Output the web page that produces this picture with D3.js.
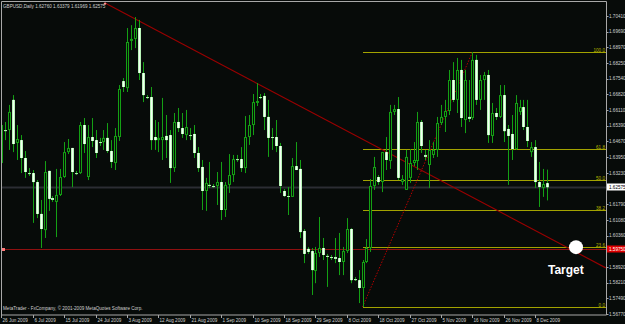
<!DOCTYPE html>
<html>
<head>
<meta charset="utf-8">
<script src="https://cdn.jsdelivr.net/npm/d3@7/dist/d3.min.js"></script>
<style>
body { margin: 0; background: #000; }
svg { display: block; }
.tiny { font-family: "Liberation Sans", Arial, sans-serif; font-size: 4.6px; fill: #d0d0d0; }
</style>
</head>
<body>
<svg id="chart" width="625" height="324"></svg>
<script>
// GBPUSD daily, 26 Jun 2009 .. 9 Dec 2009 (prices)
var opens = [
  1.6368, 1.6519, 1.6519, 1.6657, 1.6460, 1.6473, 1.6391, 1.6322, 1.6322, 1.6281,
  1.6135, 1.6061, 1.6332, 1.6208, 1.6190, 1.6222, 1.6304, 1.6418, 1.6437, 1.6322,
  1.6322, 1.6542, 1.6304, 1.6487, 1.6473, 1.6464, 1.6464, 1.6483, 1.6423, 1.6368,
  1.6487, 1.6743, 1.6711, 1.6927, 1.6936, 1.6986, 1.6780, 1.6670, 1.6670, 1.6487,
  1.6473, 1.6473, 1.6492, 1.6496, 1.6345, 1.6556, 1.6528, 1.6496, 1.6496, 1.6501,
  1.6414, 1.6350, 1.6240, 1.6268, 1.6263, 1.6263, 1.6281, 1.6153, 1.6268, 1.6313,
  1.6386, 1.6386, 1.6345, 1.6487, 1.6542, 1.6643, 1.6670, 1.6675, 1.6579, 1.6487,
  1.6487, 1.6446, 1.6240, 1.6217, 1.6213, 1.6354, 1.6341, 1.6057, 1.5975, 1.5965,
  1.5874, 1.5956, 1.5979, 1.5943, 1.5938, 1.5938, 1.5933, 1.5915, 1.5965, 1.6066,
  1.5837, 1.5832, 1.5796, 1.5915, 1.5979, 1.6263, 1.6304, 1.6281, 1.6418, 1.6377,
  1.6602, 1.6615, 1.6281, 1.6245, 1.6300, 1.6368, 1.6377, 1.6556, 1.6405, 1.6359,
  1.6405, 1.6428, 1.6551, 1.6579, 1.6606, 1.6748, 1.6657, 1.6794, 1.6565, 1.6579,
  1.6574, 1.6840, 1.6657, 1.6748, 1.6771, 1.6492, 1.6597, 1.6579, 1.6679, 1.6524,
  1.6501, 1.6432, 1.6602, 1.6624, 1.6533, 1.6418, 1.6441, 1.6281, 1.6254, 1.62760
];
var highs = [
  1.6574, 1.6556, 1.6634, 1.6679, 1.6542, 1.6496, 1.6423, 1.6345, 1.6336, 1.6290,
  1.6199, 1.6377, 1.6332, 1.6217, 1.6341, 1.6341, 1.6464, 1.6478, 1.6437, 1.6332,
  1.6556, 1.6574, 1.6542, 1.6574, 1.6519, 1.6483, 1.6519, 1.6551, 1.6473, 1.6528,
  1.6725, 1.6757, 1.6986, 1.6999, 1.7036, 1.7023, 1.6830, 1.6679, 1.6716, 1.6565,
  1.6556, 1.6666, 1.6588, 1.6519, 1.6597, 1.6620, 1.6597, 1.6611, 1.6528, 1.6542,
  1.6441, 1.6382, 1.6300, 1.6373, 1.6272, 1.6327, 1.6373, 1.6281, 1.6409, 1.6405,
  1.6405, 1.6441, 1.6583, 1.6588, 1.6684, 1.6734, 1.6684, 1.6688, 1.6657, 1.6528,
  1.6565, 1.6460, 1.6249, 1.6258, 1.6391, 1.6464, 1.6382, 1.6066, 1.5984, 1.5979,
  1.5984, 1.6121, 1.6025, 1.5952, 1.5947, 1.6025, 1.6048, 1.5984, 1.6116, 1.6070,
  1.5846, 1.5878, 1.5924, 1.6020, 1.6295, 1.6396, 1.6313, 1.6418, 1.6487, 1.6634,
  1.6634, 1.6670, 1.6313, 1.6428, 1.6432, 1.6464, 1.6602, 1.6565, 1.6428, 1.6473,
  1.6464, 1.6579, 1.6634, 1.6657, 1.6794, 1.6830, 1.6849, 1.6840, 1.6794, 1.6748,
  1.6876, 1.6863, 1.6771, 1.6785, 1.6794, 1.6643, 1.6620, 1.6725, 1.6725, 1.6542,
  1.6588, 1.6679, 1.6657, 1.6657, 1.6657, 1.6464, 1.6473, 1.6373, 1.6341, 1.63379
];
var lows = [
  1.6359, 1.6473, 1.6428, 1.6418, 1.6382, 1.6322, 1.6300, 1.6309, 1.6094, 1.6116,
  1.5979, 1.6025, 1.6149, 1.6190, 1.6029, 1.6217, 1.6300, 1.6409, 1.6258, 1.6313,
  1.6318, 1.6414, 1.6290, 1.6441, 1.6391, 1.6446, 1.6428, 1.6414, 1.6345, 1.6336,
  1.6469, 1.6693, 1.6693, 1.6885, 1.6894, 1.6748, 1.6647, 1.6661, 1.6428, 1.6428,
  1.6418, 1.6382, 1.6391, 1.6277, 1.6327, 1.6510, 1.6483, 1.6473, 1.6473, 1.6391,
  1.6327, 1.6153, 1.6149, 1.6254, 1.6254, 1.6176, 1.6107, 1.6121, 1.6231, 1.6281,
  1.6373, 1.6327, 1.6322, 1.6451, 1.6496, 1.6629, 1.6661, 1.6519, 1.6396, 1.6428,
  1.6418, 1.6231, 1.6213, 1.6130, 1.6213, 1.6336, 1.6025, 1.5910, 1.5952, 1.5764,
  1.5818, 1.5938, 1.5924, 1.5801, 1.5924, 1.5910, 1.5855, 1.5855, 1.5956, 1.5818,
  1.5828, 1.5727, 1.5709, 1.5910, 1.5961, 1.6245, 1.6268, 1.6235, 1.6336, 1.6341,
  1.6588, 1.6290, 1.6268, 1.6245, 1.6277, 1.6354, 1.6336, 1.6414, 1.6382, 1.6254,
  1.6391, 1.6396, 1.6542, 1.6510, 1.6588, 1.6647, 1.6597, 1.6533, 1.6505, 1.6556,
  1.6565, 1.6634, 1.6611, 1.6657, 1.6460, 1.6460, 1.6565, 1.6574, 1.6464, 1.6268,
  1.6382, 1.6428, 1.6588, 1.6519, 1.6441, 1.6396, 1.6254, 1.6167, 1.6213, 1.61969
];
var closes = [
  1.6542, 1.6514, 1.6602, 1.6455, 1.6478, 1.6391, 1.6327, 1.6318, 1.6281, 1.6135,
  1.6066, 1.6327, 1.6204, 1.6199, 1.6222, 1.6304, 1.6418, 1.6437, 1.6327, 1.6318,
  1.6542, 1.6455, 1.6487, 1.6469, 1.6414, 1.6460, 1.6483, 1.6423, 1.6373, 1.6492,
  1.6707, 1.6716, 1.6922, 1.6936, 1.6986, 1.6780, 1.6679, 1.6666, 1.6473, 1.6473,
  1.6483, 1.6487, 1.6473, 1.6345, 1.6556, 1.6528, 1.6501, 1.6533, 1.6492, 1.6414,
  1.6345, 1.6240, 1.6277, 1.6263, 1.6258, 1.6281, 1.6153, 1.6268, 1.6313, 1.6386,
  1.6382, 1.6345, 1.6487, 1.6542, 1.6647, 1.6652, 1.6666, 1.6579, 1.6483, 1.6483,
  1.6446, 1.6263, 1.6217, 1.6213, 1.6354, 1.6336, 1.6052, 1.5952, 1.5961, 1.5878,
  1.5956, 1.5979, 1.5947, 1.5938, 1.5933, 1.5929, 1.5915, 1.5965, 1.6066, 1.5832,
  1.5832, 1.5796, 1.5915, 1.5979, 1.6263, 1.6350, 1.6281, 1.6418, 1.6382, 1.6602,
  1.6615, 1.6300, 1.6295, 1.6396, 1.6368, 1.6382, 1.6556, 1.6446, 1.6396, 1.6428,
  1.6428, 1.6551, 1.6579, 1.6606, 1.6748, 1.6657, 1.6794, 1.6574, 1.6748, 1.6570,
  1.6840, 1.6657, 1.6748, 1.6771, 1.6496, 1.6597, 1.6579, 1.6679, 1.6514, 1.6492,
  1.6432, 1.6643, 1.6624, 1.6533, 1.6469, 1.6441, 1.6281, 1.6258, 1.6272, 1.62575
];

var priceTicks = [1.70410, 1.69690, 1.68970, 1.68250, 1.67540, 1.66820, 1.66110, 1.65390,
  1.64670, 1.63950, 1.63230, 1.62510, 1.61790, 1.61080, 1.60360, 1.59640, 1.58920,
  1.58210, 1.57490, 1.56770];
var dateLabels = ["26 Jun 2009", "6 Jul 2009", "15 Jul 2009", "24 Jul 2009", "3 Aug 2009",
  "12 Aug 2009", "21 Aug 2009", "1 Sep 2009", "10 Sep 2009", "18 Sep 2009", "29 Sep 2009",
  "8 Oct 2009", "18 Oct 2009", "27 Oct 2009", "5 Nov 2009", "16 Nov 2009", "26 Nov 2009",
  "8 Dec 2009"];
var fibLevels = [0, 23.6, 38.2, 50.0, 61.8, 100.0];
var fibLow = { bar: 92, price: 1.5709 };
var fibHigh = { bar: 120, price: 1.6876 };
var trendPoints = [{ bar: 26.4, price: 1.7100 }, { bar: 154, price: 1.5888 }];
var alertPrice = 1.59745;
var lastPrice = 1.62575;
var targetPrice = 1.5983;
var header = "GBPUSD,Daily  1.62760 1.63379 1.61969 1.62575";

var W = 625, H = 324;
var plotLeft = 2, plotRight = 606, plotTop = 1.5, plotBottom = 315;

var svg = d3.select("#chart");
svg.append("rect").attr("width", W).attr("height", H).attr("fill", "#070b09");

var x = d3.scaleLinear().domain([0, 139]).range([1.45, 547]);
var y = d3.scaleLinear().domain([1.56770, 1.70410]).range([314, 16]);

var plot = svg.append("g");
plot.append("clipPath").attr("id", "clip")
  .append("rect").attr("x", plotLeft).attr("y", plotTop)
  .attr("width", plotRight - plotLeft).attr("height", plotBottom - plotTop);
var g = plot.append("g").attr("clip-path", "url(#clip)");

// bid line
g.append("line")
  .attr("x1", plotLeft).attr("x2", plotRight)
  .attr("y1", Math.round(y(lastPrice)) + 0.5).attr("y2", Math.round(y(lastPrice)) + 0.5)
  .attr("stroke", "#2b2d33").attr("stroke-width", 2);

// horizontal alert line
g.append("line")
  .attr("x1", plotLeft).attr("x2", plotRight)
  .attr("y1", Math.round(y(alertPrice)) + 0.5).attr("y2", Math.round(y(alertPrice)) + 0.5)
  .attr("stroke", "#8e1010").attr("stroke-width", 1);
g.append("rect").attr("x", 2).attr("y", Math.round(y(alertPrice)) - 1)
  .attr("width", 3).attr("height", 3).attr("fill", "#ff7b7b");

// fibonacci levels
var fibY = function(l) { return fibLow.price + (fibHigh.price - fibLow.price) * l / 100; };
g.selectAll(".fib").data(fibLevels).enter().append("line")
  .attr("x1", Math.round(x(fibLow.bar))).attr("x2", plotRight)
  .attr("y1", function(d) { return Math.round(y(fibY(d))) + 0.5; })
  .attr("y2", function(d) { return Math.round(y(fibY(d))) + 0.5; })
  .attr("stroke", "#a3a300").attr("stroke-width", 1);
g.selectAll(".fibtxt").data(fibLevels).enter().append("text")
  .attr("class", "tiny")
  .attr("x", plotRight - 1).attr("y", function(d) { return Math.round(y(fibY(d))) - 0.5; })
  .attr("text-anchor", "end").style("fill", "#b5b500")
  .text(function(d) { return d.toFixed(1); });
g.append("line")
  .attr("x1", x(fibLow.bar)).attr("y1", y(fibLow.price))
  .attr("x2", x(fibHigh.bar)).attr("y2", y(fibHigh.price))
  .attr("stroke", "#b80000").attr("stroke-width", 1).attr("stroke-dasharray", "1.5,1.5");

// trend line
g.append("line")
  .attr("x1", x(trendPoints[0].bar)).attr("y1", y(trendPoints[0].price))
  .attr("x2", x(trendPoints[1].bar)).attr("y2", y(trendPoints[1].price))
  .attr("stroke", "#9a0000").attr("stroke-width", 1.1);
g.append("circle").attr("cx", x(trendPoints[0].bar)).attr("cy", y(trendPoints[0].price) + 0.5)
  .attr("r", 1.2).attr("fill", "#ff8c8c");

// candles
var bars = d3.range(opens.length).map(function(i) {
  return { i: i, o: opens[i], h: highs[i], l: lows[i], c: closes[i] };
});
var cg = g.selectAll(".bar").data(bars).enter().append("g");
cg.append("line")
  .attr("x1", function(d) { return Math.round(x(d.i)) + 0.5; })
  .attr("x2", function(d) { return Math.round(x(d.i)) + 0.5; })
  .attr("y1", function(d) { return y(d.h); })
  .attr("y2", function(d) { return y(d.l); })
  .attr("stroke", "#14a014").attr("stroke-width", 1);
cg.append("rect")
  .attr("x", function(d) { return Math.round(x(d.i)) - 1; })
  .attr("y", function(d) { return y(Math.max(d.o, d.c)); })
  .attr("width", 3)
  .attr("height", function(d) { return Math.max(1, Math.abs(y(d.o) - y(d.c))); })
  .attr("fill", function(d) { return d.c >= d.o ? "#14a014" : "#b8f5b8"; });
cg.filter(function(d) { return d.c >= d.o && Math.abs(y(d.o) - y(d.c)) > 2; })
  .append("rect")
  .attr("x", function(d) { return Math.round(x(d.i)); })
  .attr("y", function(d) { return y(d.c) + 1; })
  .attr("width", 1)
  .attr("height", function(d) { return Math.abs(y(d.o) - y(d.c)) - 2; })
  .attr("fill", "#061006");
cg.filter(function(d) { return d.c < d.o && Math.abs(y(d.o) - y(d.c)) > 2; })
  .append("rect")
  .attr("x", function(d) { return Math.round(x(d.i)); })
  .attr("y", function(d) { return y(d.o); })
  .attr("width", 1)
  .attr("height", function(d) { return Math.abs(y(d.o) - y(d.c)); })
  .attr("fill", "#f4fff4");

// frame
svg.append("path")
  .attr("d", "M" + (plotLeft - 0.5) + "," + plotBottom + "V" + plotTop + "H" + (plotRight + 0.5) + "V" + plotBottom + "H" + (plotLeft - 0.5))
  .attr("fill", "none").attr("stroke", "#a8a8a8").attr("stroke-width", 1);

// price axis (labels under the two price tags are hidden, like the terminal does)
var tagPrices = [lastPrice, 1.59750];
var shownTicks = priceTicks.filter(function(p) {
  return tagPrices.every(function(t) { return Math.abs(y(p) - y(t)) > 6; });
});
var ya = svg.append("g");
ya.selectAll("line").data(priceTicks).enter().append("line")
  .attr("x1", plotRight + 0.5).attr("x2", plotRight + 2.5)
  .attr("y1", function(d) { return Math.round(y(d)) + 0.5; })
  .attr("y2", function(d) { return Math.round(y(d)) + 0.5; })
  .attr("stroke", "#a8a8a8");
ya.selectAll("text").data(shownTicks).enter().append("text")
  .attr("class", "tiny")
  .attr("x", 609).attr("y", function(d) { return y(d) + 1.7; })
  .text(function(d) { return d.toFixed(5); });

function priceTag(p, bg, fg) {
  var yy = Math.round(y(p));
  svg.append("rect").attr("x", plotRight + 1).attr("y", yy - 3.5).attr("width", 19).attr("height", 7).attr("fill", bg);
  svg.append("text").attr("class", "tiny").attr("x", 609).attr("y", yy + 1.7)
    .style("fill", fg).text(p.toFixed(5));
}
priceTag(tagPrices[0], "#ffffff", "#000000");
priceTag(tagPrices[1], "#e00000", "#ffffff");

// time axis
var xa = svg.append("g");
xa.selectAll("line").data(dateLabels).enter().append("line")
  .attr("x1", function(d, k) { return Math.round(x(k * 8)) + 0.5; })
  .attr("x2", function(d, k) { return Math.round(x(k * 8)) + 0.5; })
  .attr("y1", plotBottom).attr("y2", plotBottom + 3)
  .attr("stroke", "#a8a8a8");
xa.selectAll("text").data(dateLabels).enter().append("text")
  .attr("class", "tiny")
  .attr("x", function(d, k) { return Math.round(x(k * 8)) + 1.5; })
  .attr("y", 321.5)
  .text(function(d) { return d; });

svg.append("text").attr("class", "tiny").attr("x", 3).attr("y", 7.5).text(header);
svg.append("text").attr("class", "tiny").attr("x", 3).attr("y", 310)
  .text("MetaTrader - FxCompany, \u00a9 2001-2009 MetaQuotes Software Corp.");

// target marker
svg.append("circle").attr("cx", 576).attr("cy", y(targetPrice)).attr("r", 7).attr("fill", "#ffffff");
svg.append("text").attr("x", 548).attr("y", 273.5)
  .style("font-family", "'Liberation Sans', Arial, sans-serif").style("font-weight", "bold")
  .style("font-size", "12px").style("fill", "#ffffff").text("Target");
</script>
</body>
</html>
